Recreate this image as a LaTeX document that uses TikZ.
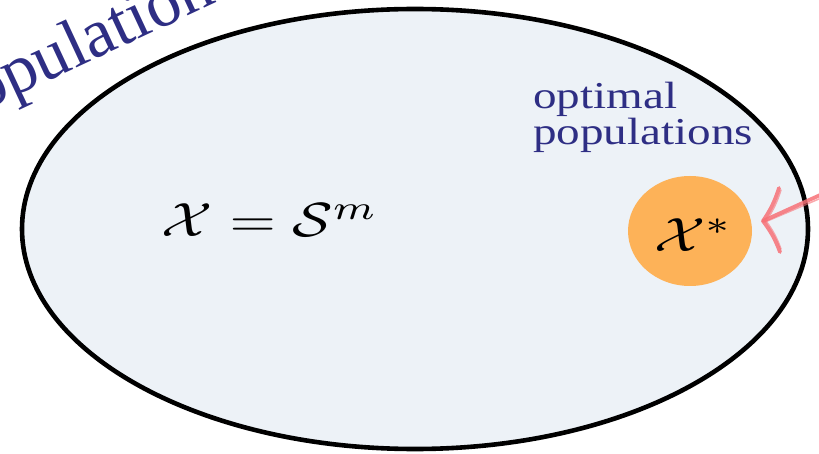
\documentclass[tikz,border=0pt]{standalone}
\usepackage{fontspec}
\setmainfont{Liberation Serif}
\usetikzlibrary{shapes.geometric,calc}
\definecolor{popblue}{RGB}{46,46,132}
\definecolor{setfill}{RGB}{237,242,247}
\definecolor{optorange}{RGB}{253,178,88}
\definecolor{arrowpink}{RGB}{247,112,118}
\begin{document}
\begin{tikzpicture}[x=1pt,y=-1pt,
  setshape/.style={ellipse, draw=black, line width=4.6pt, fill=setfill, inner sep=0pt},
  optshape/.style={ellipse, fill=optorange, inner sep=0pt},
  bluetext/.style={text=popblue, inner sep=0pt},
  mathtext/.style={inner sep=0pt},
  pinkstroke/.style={draw=arrowpink, line width=3.8pt, line cap=round, line join=round, opacity=0.85},
  pinkthin/.style={draw=arrowpink, line width=1.5pt, line cap=round, opacity=0.6}]
\useasboundingbox (0,0) rectangle (819,454);
\clip (0,0) rectangle (819,454);
% the whole space
\node[setshape, minimum width=786pt, minimum height=440pt] (space) at (415,229) {};
% rotated label
\node[bluetext, anchor=base west, font=\fontsize{69}{69}\selectfont, rotate=25] (poplabel) at (-50,127) {population};
% equation
\node[mathtext, anchor=base] (eq) at (270,237) {\scalebox{5.95}[4.8]{$\mathcal{X}=\mathcal{S}^m$}};
% optimal set
\node[optshape, minimum width=124pt, minimum height=110pt] (opt) at (690,231) {};
\node[mathtext, anchor=base] (optlabel) at (694,252) {\scalebox{5.95}[4.8]{$\mathcal{X}^{*}$}};
\node[bluetext, anchor=base west, font=\fontsize{38}{33}\selectfont] (opttext) at (533,145)
  {\scalebox{1.24}[1]{\begin{tabular}[b]{@{}l@{}}optimal\\populations\end{tabular}}};
% pink arrow
\coordinate (arrowtip) at (763,221);
\coordinate (arrowtail) at (840,186);
\coordinate (barbup) at (779,188);
\coordinate (barbdown) at (780,252);
\draw[pinkstroke] (arrowtail) -- (arrowtip);
\draw[pinkthin] ($(arrowtail)+(0,4)$) -- ($(arrowtip)+(2,1)$);
\draw[pinkstroke] (barbup) to[bend left=8] (arrowtip) to[bend left=8] (barbdown);
\draw[pinkthin] ($(barbup)+(2,2)$) to[bend left=8] ($(arrowtip)+(3,0)$) to[bend left=8] ($(barbdown)+(1,-3)$);
\end{tikzpicture}
\end{document}
